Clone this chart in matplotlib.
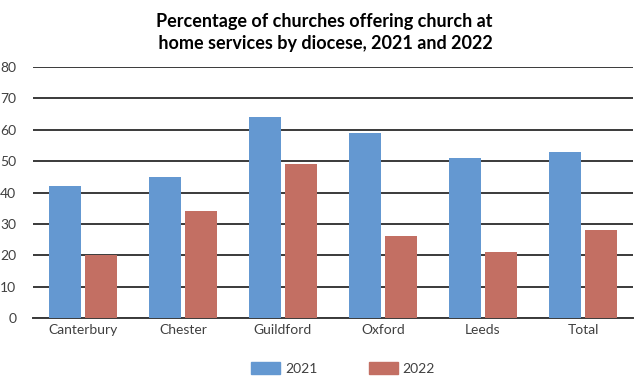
import numpy as np
import matplotlib
matplotlib.use("Agg")
import matplotlib.pyplot as plt
from matplotlib.patches import Patch

dioceses = ["Canterbury", "Chester", "Guildford", "Oxford", "Leeds", "Total"]
pct_2021 = [42, 45, 64, 59, 51, 53]
pct_2022 = [20, 34, 49, 26, 21, 28]
years = ["2021", "2022"]
yticks = [0, 10, 20, 30, 40, 50, 60, 70, 80]

BLUE = "#6498d1"
RED = "#c36f63"
TXT = "#404040"

plt.rcParams["font.family"] = ["Lato", "DejaVu Sans"]

fig = plt.figure(figsize=(6.35, 3.76), dpi=100)
ax = fig.add_axes([33 / 635, 1 - 318 / 376, 600 / 635, 251 / 376])

x = np.arange(len(dioceses))
w = 0.32
ax.bar(x - w / 2 - 0.018, pct_2021, w, color=BLUE, zorder=3)
ax.bar(x + w / 2 + 0.018, pct_2022, w, color=RED, zorder=3)

ax.set_xlim(-0.5, len(dioceses) - 0.5)
ax.set_ylim(0, 80)
ax.set_yticks(yticks)
ax.yaxis.grid(True, color="#3a3a3a", linewidth=1.4, zorder=0)
ax.set_xticks(x)
ax.set_xticklabels(dioceses)
ax.tick_params(axis="both", length=0, labelsize=10, colors=TXT, pad=4)
ax.tick_params(axis="y", pad=12)
for s in ["left", "right", "top"]:
    ax.spines[s].set_visible(False)
ax.spines["bottom"].set_color("#3a3a3a")
ax.spines["bottom"].set_linewidth(1.4)

fig.text(0.51, 0.966, "Percentage of churches offering church at\n home services by diocese, 2021 and 2022",
         ha="center", va="top", fontsize=13, fontweight="bold", color="black", linespacing=1.35)

handles = [Patch(color=BLUE, label=years[0]), Patch(color=RED, label=years[1])]
fig.legend(handles=handles, loc="center", bbox_to_anchor=(0.54, 0.02), ncol=2, frameon=False,
           fontsize=10, handlelength=2.1, handleheight=0.9, columnspacing=3.7, handletextpad=0.35,
           labelcolor=TXT)

fig.savefig("out.png", dpi=100)
